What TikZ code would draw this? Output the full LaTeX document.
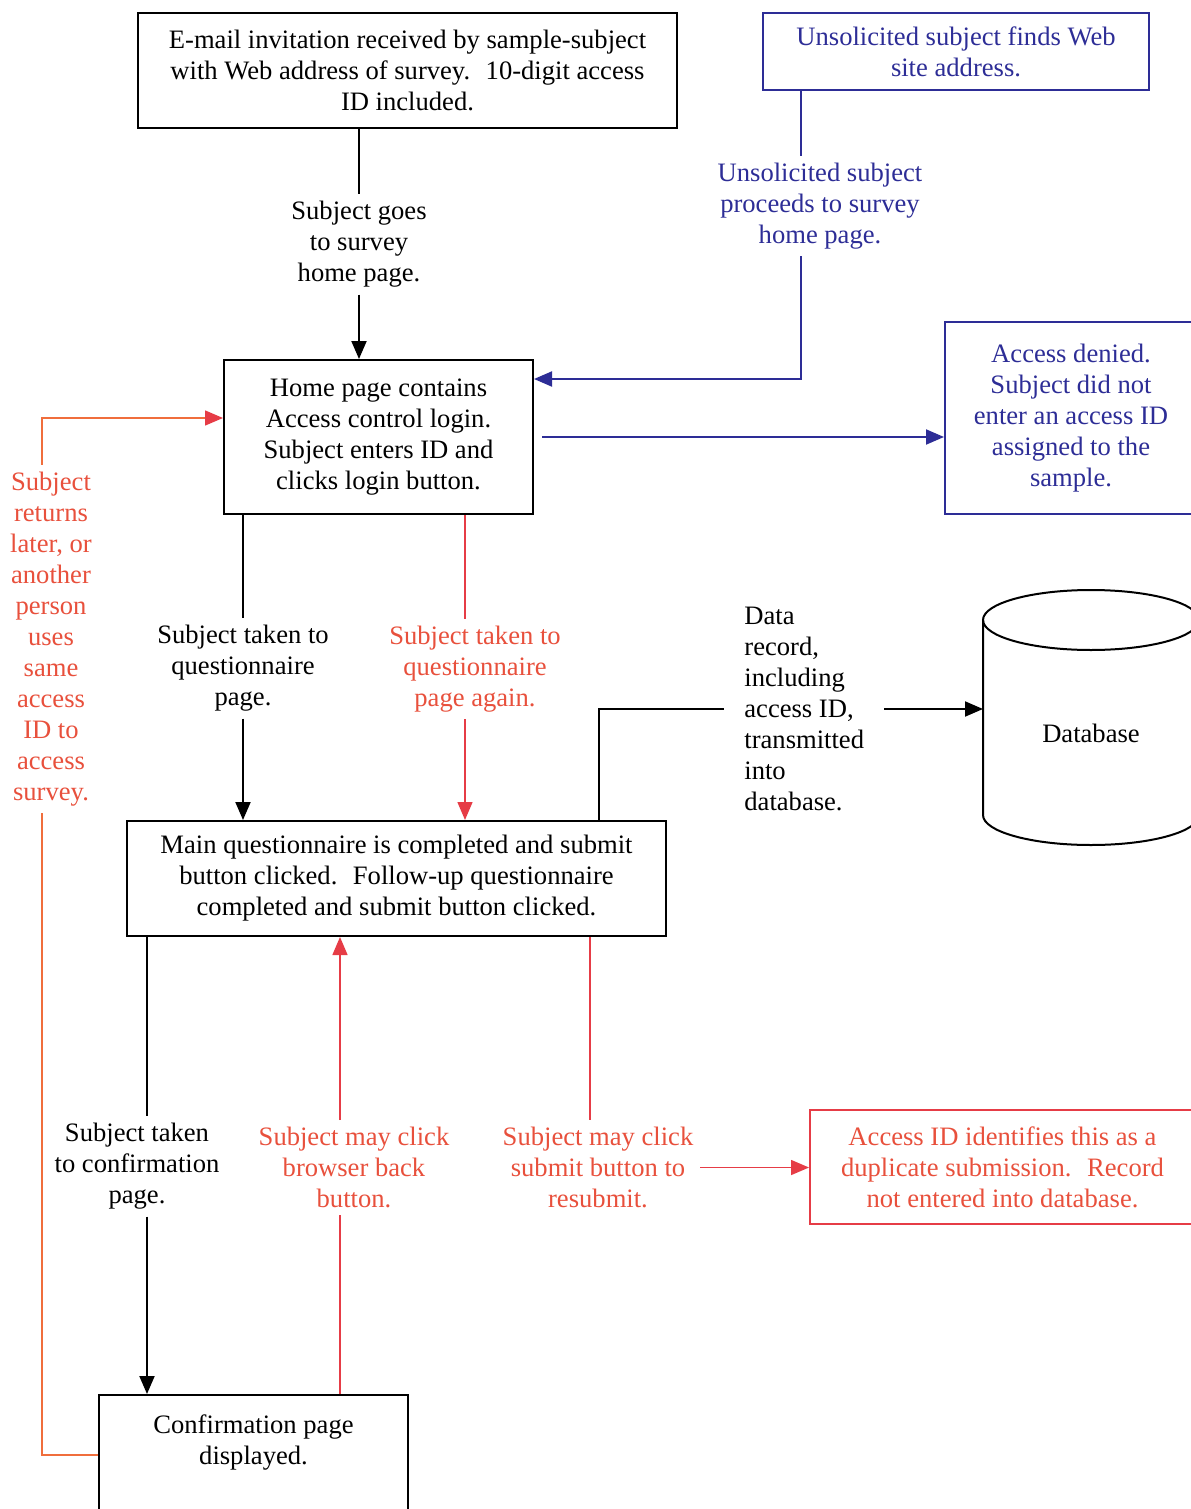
\documentclass[tikz,border=0pt]{standalone}
\usepackage{fontspec}
\setmainfont{Liberation Serif}
\usetikzlibrary{arrows.meta,positioning}

\definecolor{surveyblue}{RGB}{45,45,150}
\definecolor{surveyred}{RGB}{232,80,60}
\definecolor{redwire}{RGB}{230,60,70}
\definecolor{loopwire}{RGB}{240,110,60}

\tikzset{
  wire/.style={line width=1pt, black},
  bluewire/.style={line width=1pt, surveyblue},
  redline/.style={line width=0.75pt, redwire},
  loopline/.style={line width=0.75pt, loopwire},
  flowarrow/.style={-{Triangle[length=9pt,width=7.5pt]}},
  redarrow/.style={-{Triangle[length=9pt,width=7.5pt,color=redwire]}},
  flowbox/.style={draw, line width=1pt, align=center, inner sep=0pt},
  flowlabel/.style={align=center},
}

\begin{document}
\begin{tikzpicture}[x=0.5pt, y=-0.5pt, font=\fontsize{13.3}{15.5}\selectfont]
\useasboundingbox (0,0) rectangle (1190,1509);

%% boxes
\node[flowbox, minimum width=269.5pt, minimum height=57.5pt] (email) at (407.5,70.5)
  {E-mail invitation received by sample-subject\\ with Web address of survey.~ 10-digit access\\ ID included.};
\node[flowbox, surveyblue, minimum width=193pt, minimum height=38.5pt] (unsol) at (956,51.5)
  {Unsolicited subject finds Web\\ site address.};
\node[flowbox, minimum width=154.5pt, minimum height=77pt] (home) at (378.5,437)
  {Home page contains\\ Access control login.\\ Subject enters ID and\\ clicks login button.};
\node[flowbox, surveyblue, minimum width=126pt, minimum height=96pt] (denied) at (1071,418)
  {Access denied.\\ Subject did not\\ enter an access ID\\ assigned to the\\ sample.};
\node[flowbox, minimum width=269.5pt, minimum height=57.5pt] (main) at (396.5,878.5)
  {Main questionnaire is completed and submit\\ button clicked.~ Follow-up questionnaire\\ completed and submit button clicked.};
\node[flowbox, surveyred, draw=redwire, minimum width=192.5pt, minimum height=57pt] (dup) at (1002.5,1167)
  {Access ID identifies this as a\\ duplicate submission.~ Record\\ not entered into database.};
\node[flowbox, minimum width=154.5pt, minimum height=60pt] (confirm) at (253.5,1455)
  {Confirmation page\\ displayed.\\ \mbox{}};

%% database
\draw[wire] (983,620) -- (983,815) arc[start angle=180, end angle=360, x radius=54pt, y radius=15pt] -- (1199,620);
\draw[wire] (1091,620) ellipse [x radius=54pt, y radius=15pt];
\node (db) at (1091,733) {Database};
\coordinate (dbleft) at (983,706);

%% labels
\node[flowlabel] (lblgoes) at (359,244.5) {Subject goes\\ to survey\\ home page.};
\node[flowlabel, surveyblue] (lblunsol) at (820,206) {Unsolicited subject\\ proceeds to survey\\ home page.};
\node[flowlabel] (lbltaken) at (243,668.5) {Subject taken to\\ questionnaire\\ page.};
\node[flowlabel, surveyred] (lblagain) at (475,669) {Subject taken to\\ questionnaire\\ page again.};
\node[align=left, anchor=west, inner xsep=10pt] (lbldata) at (724,709)
  {Data\\ record,\\ including\\ access ID,\\ transmitted\\ into\\ database.};
\node[flowlabel] (lblconf) at (137,1166.5) {Subject taken\\ to confirmation\\ page.};
\node[flowlabel, surveyred] (lblback) at (354,1167.5) {Subject may click\\ browser back\\ button.};
\node[flowlabel, surveyred] (lblresub) at (598,1167.5) {Subject may click\\ submit button to\\ resubmit.};
\node[flowlabel, surveyred] (lblreturn) at (51,639)
  {Subject\\ returns\\ later, or\\ another\\ person\\ uses\\ same\\ access\\ ID to\\ access\\ survey.};

%% wire columns
\coordinate (unsolx) at (801,0);
\coordinate (againx) at (465,0);
\coordinate (datax) at (599,0);
\coordinate (confx) at (147,0);
\coordinate (backx) at (340,0);
\coordinate (resubx) at (590,0);
\coordinate (loopx) at (42,0);

%% black flow
\draw[wire] (email.south -| lblgoes) -- (lblgoes);
\draw[wire, flowarrow] (lblgoes) -- (lblgoes |- home.north);
\draw[wire] (home.south -| lbltaken) -- (lbltaken);
\draw[wire, flowarrow] (lbltaken) -- (lbltaken |- main.north);
\draw[wire] (main.north -| datax) |- (lbldata.west);
\draw[wire, flowarrow] (lbldata.east) -- (lbldata.east -| dbleft);
\draw[wire] (main.south -| confx) -- (lblconf.north -| confx);
\draw[wire, flowarrow] (lblconf.south -| confx) -- (confirm.north -| confx);

%% blue flow
\draw[bluewire] (unsol.south -| unsolx) -- (lblunsol.north -| unsolx);
\draw[bluewire, flowarrow] (lblunsol.south -| unsolx) |- ([yshift=-10pt]home.north east);
\draw[bluewire, flowarrow] ([xshift=4pt]home.east) -- (denied.west |- home.east);

%% red flow
\draw[redline] (home.south -| againx) -- (lblagain.north -| againx);
\draw[redline, redarrow] (lblagain.south -| againx) -- (main.north -| againx);
\draw[redline] (confirm.north -| backx) -- (lblback.south -| backx);
\draw[redline, redarrow] (lblback.north -| backx) -- (main.south -| backx);
\draw[redline] (main.south -| resubx) -- (lblresub.north -| resubx);
\draw[redline, redarrow] (lblresub.east) -- (dup.west |- lblresub.east);

%% return loop
\draw[loopline] (confirm.west) -| (lblreturn.south -| loopx);
\draw[loopline, redarrow] (lblreturn.north -| loopx) |- ([yshift=-29.5pt]home.north west);

\end{tikzpicture}
\end{document}
